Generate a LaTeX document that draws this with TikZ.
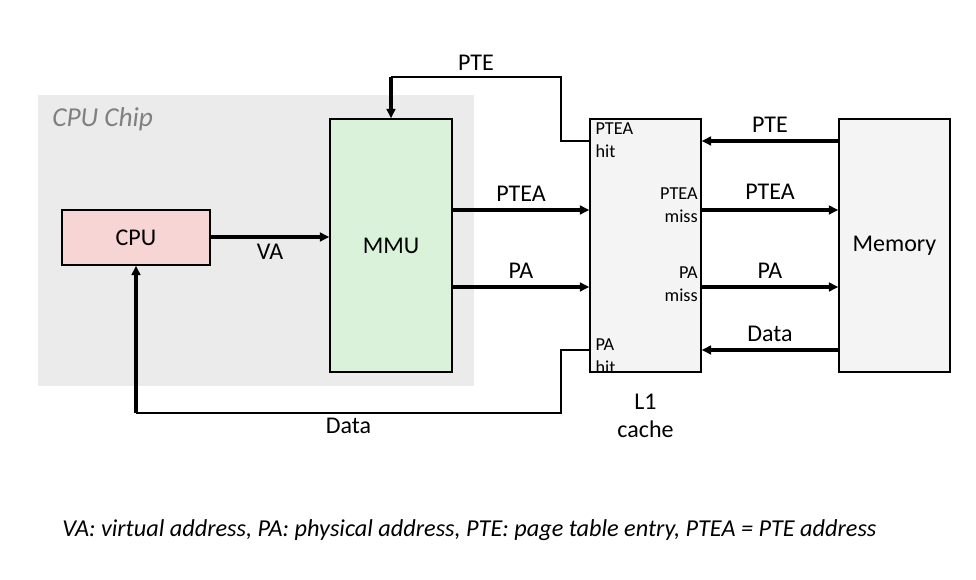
\documentclass[tikz,border=0pt]{standalone}
\usepackage{fontspec}
\setmainfont{Carlito}
\usetikzlibrary{arrows.meta, positioning, calc}

\definecolor{chipgray}{HTML}{EBEBEB}
\definecolor{cpupink}{HTML}{F8D5D5}
\definecolor{mmugreen}{HTML}{DAF1DA}
\definecolor{cachegray}{HTML}{F4F4F4}
\definecolor{chiptext}{HTML}{808080}

\begin{document}
\begin{tikzpicture}[
  x=0.75pt, y=-0.75pt,
  >={Triangle[length=7pt, width=6.5pt]},
  unit/.style={
    draw, line width=1.1pt, inner sep=0pt,
    font=\fontsize{18}{21}\selectfont
  },
  cpubox/.style={unit, fill=cpupink, minimum width=111pt, minimum height=41.25pt},
  tallbox/.style={unit, minimum width=83.25pt, minimum height=189.75pt},
  arr/.style={->, line width=2.3pt},
  wire/.style={line width=1pt},
  lbl/.style={font=\fontsize{18}{21}\selectfont, inner sep=2pt},
  portlbl/.style={font=\fontsize{13.7}{17.5}\selectfont, inner sep=0pt},
]

\useasboundingbox (0,0) rectangle (976,580);

%%% CPU chip background
\node[fill=chipgray, minimum width=327pt, minimum height=218.25pt,
      inner sep=0pt] (chip) at (256,240.5) {};
\node[anchor=west, font=\fontsize{20.5}{24}\selectfont\itshape,
      text=chiptext, inner sep=0pt] (chiplbl) at (52,119) {CPU Chip};

%%% Boxes
\node[cpubox] (cpu) at (136,237.5) {CPU};
\node[tallbox, fill=mmugreen, minimum width=91.5pt] (mmu) at (391,245.5) {MMU};
\node[tallbox, fill=cachegray] (l1) at (645.5,245.5) {};
\node[tallbox, fill=cachegray] (mem) at (894.5,245.5) {Memory};
\node[lbl, align=center, below=14pt of l1] (l1lbl) {L1\\cache};

%%% Port labels inside L1
\node[portlbl, anchor=north west, align=left] (ptehit)
  at ([xshift=4.5pt, yshift=-3pt]l1.north west) {PTEA\\hit};
\node[portlbl, anchor=east, align=right] (pteamiss) at (698,205) {PTEA\\miss};
\node[portlbl, anchor=east, align=right] (pamiss) at (698,284) {PA\\miss};
\node[portlbl, anchor=south west, align=left] (pahit)
  at ([xshift=4.5pt, yshift=-1pt]l1.south west) {PA\\hit};

%%% Rows
\coordinate (rowpte) at (0,141);
\coordinate (rowptea) at (0,210);
\coordinate (rowva) at (0,237);
\coordinate (rowpa) at (0,287);
\coordinate (rowdata) at (0,350);
\coordinate (ptetop) at (561,77);
\coordinate (databot) at (561,413);

%%% Connectors
\draw[arr] (cpu.east |- rowva) -- (mmu.west |- rowva)
  node[lbl, midway, below=2pt] {VA};
\draw[arr] (mmu.east |- rowptea) -- (l1.west |- rowptea)
  node[lbl, midway, above=3pt] {PTEA};
\draw[arr] (mmu.east |- rowpa) -- (l1.west |- rowpa)
  node[lbl, midway, above=3pt] {PA};
\draw[arr] (l1.east |- rowptea) -- (mem.west |- rowptea)
  node[lbl, midway, above=5pt] {PTEA};
\draw[arr] (l1.east |- rowpa) -- (mem.west |- rowpa)
  node[lbl, midway, above=3pt] {PA};
\draw[arr] (mem.west |- rowpte) -- (l1.east |- rowpte)
  node[lbl, midway, above=3pt] {PTE};
\draw[arr] (mem.west |- rowdata) -- (l1.east |- rowdata)
  node[lbl, midway, above=3pt] {Data};

%%% PTE hit loop back to MMU
\draw[wire] (l1.west |- rowpte) -| (ptetop) -- (mmu.north |- ptetop)
  node[lbl, midway, above=2pt] {PTE};
\draw[arr] (mmu.north |- ptetop) -- (mmu.north);

%%% PA hit loop back to CPU
\draw[wire] (l1.west |- rowdata) -| (databot) -- (cpu.south |- databot)
  node[lbl, midway, below=1pt] {Data};
\draw[arr] (cpu.south |- databot) -- (cpu.south);

%%% Caption
\node[anchor=west, font=\fontsize{18.2}{22}\selectfont\itshape, inner sep=0pt]
  (caption) at (62,530)
  {VA: virtual address, PA: physical address, PTE: page table entry, PTEA = PTE address};

\end{tikzpicture}
\end{document}
